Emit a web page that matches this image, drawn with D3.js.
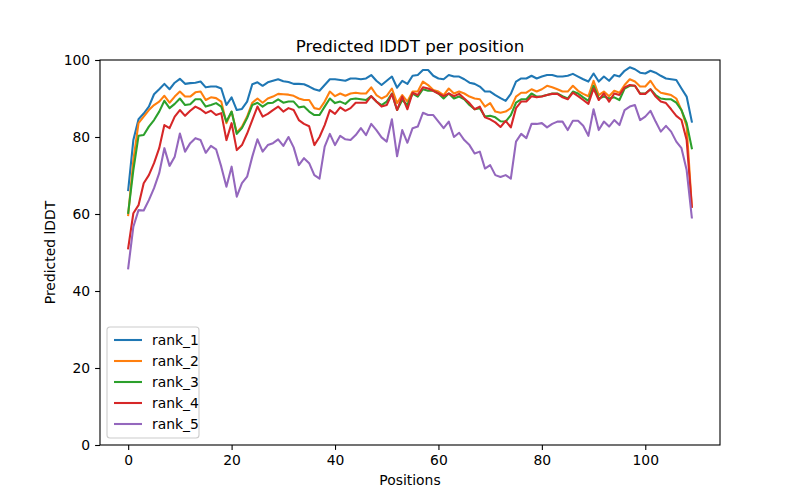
<!DOCTYPE html>
<html>
  <head>
    <title>Predicted lDDT per position</title>
    <meta charset="utf-8">
    <style>
      body { margin: 0; background-color: #fff; }
      svg { display: block; font-family: "DejaVu Sans", sans-serif; }
      .axis path, .axis line { stroke: #000; stroke-width: 1.1px; }
      .axis text { font-size: 13.9px; fill: #000; font-family: "DejaVu Sans", sans-serif; }
    </style>
    <script src="https://cdn.jsdelivr.net/npm/d3@7"></script>
  </head>
  <body>
    <div id="chart"></div>
    <script>
      var seriesNames = ['rank_1', 'rank_2', 'rank_3', 'rank_4', 'rank_5'];
      var xTicks = [0, 20, 40, 60, 80, 100];
      var yTicks = [0, 20, 40, 60, 80, 100];

      var rank1 = [66.2, 79.2, 84.6, 86.1, 87.9, 91.1, 92.4, 93.8, 92.4, 94.1, 95.1, 93.8, 94.0, 94.1, 94.4, 92.9, 93.1, 93.1, 92.6, 88.3,
        90.3, 87.0, 87.3, 89.2, 93.7, 94.2, 93.3, 94.2, 94.6, 95.0, 94.5, 94.3, 93.8, 93.8, 93.7, 93.1, 92.4, 92.0, 93.5, 95.0,
        95.0, 94.8, 94.6, 95.2, 95.2, 95.0, 95.2, 96.1, 94.6, 93.5, 94.6, 95.7, 92.8, 94.6, 93.8, 95.9, 96.1, 97.4, 97.4, 95.9,
        95.2, 95.0, 96.1, 95.7, 95.7, 95.0, 94.1, 93.8, 93.1, 91.8, 91.8, 90.9, 90.1, 89.4, 91.2, 94.4, 95.2, 95.2, 95.9, 95.2,
        95.7, 96.1, 96.1, 95.7, 95.7, 95.9, 96.4, 95.7, 95.0, 94.4, 96.5, 94.4, 95.7, 94.6, 96.1, 95.7, 97.2, 98.1, 97.6, 96.7,
        96.5, 97.2, 96.7, 95.9, 95.2, 95.0, 94.8, 92.6, 90.5, 84.0];
      var rank2 = [59.7, 74.0, 83.6, 85.3, 87.0, 88.3, 89.2, 90.7, 88.9, 90.5, 91.8, 90.5, 90.5, 91.6, 91.8, 89.6, 90.3, 90.1, 89.2, 83.6,
        86.6, 81.1, 82.7, 85.3, 88.9, 90.0, 88.9, 90.0, 90.5, 91.2, 91.1, 91.0, 90.7, 90.0, 89.6, 89.6, 87.5, 87.2, 89.2, 91.8,
        90.6, 91.3, 90.7, 91.3, 91.5, 91.3, 91.3, 92.9, 90.9, 90.0, 90.7, 92.6, 88.8, 90.9, 89.2, 91.8, 91.8, 94.4, 93.5, 92.2,
        91.8, 90.9, 92.6, 91.3, 91.8, 91.3, 90.5, 90.0, 89.8, 87.9, 88.8, 86.6, 86.3, 86.6, 87.5, 90.5, 91.5, 91.5, 92.4, 91.8,
        92.4, 93.3, 92.9, 92.4, 91.8, 91.8, 93.3, 92.0, 91.2, 90.6, 94.6, 90.9, 91.8, 90.6, 92.0, 91.5, 93.5, 95.0, 94.4, 93.1,
        93.1, 94.6, 92.6, 91.5, 91.2, 90.9, 90.0, 87.0, 82.7, 61.9];
      var rank3 = [60.3, 71.4, 80.3, 80.5, 82.7, 84.4, 86.6, 89.4, 87.5, 88.6, 90.0, 88.3, 88.5, 89.8, 89.8, 87.9, 88.3, 88.8, 87.9, 84.0,
        86.6, 80.8, 82.3, 84.9, 88.3, 88.9, 87.9, 88.8, 88.9, 89.8, 88.9, 89.2, 89.2, 87.7, 87.9, 86.6, 85.7, 85.7, 87.9, 90.0,
        88.8, 89.2, 88.6, 89.8, 90.0, 89.8, 89.6, 90.6, 89.2, 88.3, 89.2, 91.3, 87.0, 89.6, 88.3, 91.3, 90.5, 92.4, 92.0, 92.0,
        91.3, 90.0, 91.3, 90.0, 90.5, 89.8, 88.3, 87.2, 87.5, 85.3, 85.5, 85.1, 84.1, 84.0, 85.7, 88.9, 89.8, 89.8, 91.3, 90.5,
        90.6, 90.9, 91.3, 91.3, 90.6, 90.0, 91.8, 91.3, 90.3, 89.4, 93.3, 90.0, 90.5, 90.0, 90.3, 89.6, 92.6, 93.3, 93.3, 91.3,
        91.3, 92.4, 90.9, 90.0, 89.8, 89.8, 88.9, 87.0, 83.6, 77.1];
      var rank4 = [51.1, 60.2, 62.3, 68.0, 70.1, 73.2, 77.1, 83.1, 82.3, 85.3, 87.0, 85.5, 86.8, 87.9, 87.2, 86.2, 86.8, 85.7, 86.2, 79.2,
        83.6, 76.6, 77.9, 80.9, 84.4, 87.9, 85.3, 86.0, 87.0, 87.9, 86.6, 87.5, 87.0, 84.4, 83.4, 82.8, 77.9, 80.0, 83.1, 87.0,
        86.0, 87.7, 86.8, 87.5, 88.9, 88.9, 88.9, 90.6, 89.2, 87.9, 88.3, 91.2, 87.0, 90.5, 87.2, 91.5, 90.9, 92.9, 92.6, 92.0,
        91.3, 90.6, 91.3, 90.6, 91.2, 90.0, 88.8, 87.2, 87.9, 85.1, 84.6, 83.8, 82.6, 84.2, 82.5, 87.5, 89.2, 89.2, 90.6, 90.3,
        90.5, 90.9, 91.2, 91.2, 90.3, 89.8, 91.5, 90.6, 89.6, 88.6, 92.6, 89.6, 91.3, 89.2, 91.3, 90.9, 92.9, 93.5, 93.3, 91.2,
        91.2, 92.4, 90.5, 89.2, 88.8, 87.2, 85.5, 84.4, 79.2, 61.9];
      var rank5 = [45.9, 56.7, 61.0, 60.9, 63.6, 66.7, 70.6, 77.1, 72.5, 74.9, 80.9, 76.2, 78.4, 79.7, 79.2, 75.9, 77.7, 76.8, 72.3, 67.1,
        72.3, 64.5, 68.0, 69.7, 74.9, 79.4, 76.2, 77.9, 78.4, 79.4, 77.7, 80.0, 77.3, 72.7, 74.5, 73.2, 70.1, 69.2, 77.5, 80.8,
        77.9, 80.3, 79.4, 79.2, 80.5, 82.3, 80.5, 83.4, 81.8, 79.9, 78.8, 84.6, 75.0, 81.8, 78.5, 82.3, 82.7, 86.3, 85.7, 85.7,
        84.0, 82.3, 84.0, 80.0, 81.1, 79.2, 77.9, 75.7, 76.2, 71.8, 72.7, 70.1, 69.6, 70.1, 69.2, 78.8, 80.8, 79.7, 83.4, 83.4,
        83.6, 82.5, 83.4, 84.0, 84.0, 81.8, 84.2, 84.2, 82.9, 80.3, 87.2, 81.8, 84.0, 82.7, 84.4, 83.1, 87.0, 87.9, 88.3, 84.4,
        85.3, 86.8, 84.0, 81.4, 82.9, 81.4, 78.8, 77.1, 71.4, 59.1];

      var allSeries = [rank1, rank2, rank3, rank4, rank5];
      var colors = ['#1f77b4', '#ff7f0e', '#2ca02c', '#d62728', '#9467bd'];

      var W = 800, H = 500;
      var axLeft = 100, axRight = 720, axTop = 60, axBottom = 445;
      var n = rank1.length - 1;

      var x = d3.scaleLinear().domain([-0.05 * n, 1.05 * n]).range([axLeft, axRight]);
      var y = d3.scaleLinear().domain([0, 100]).range([axBottom, axTop]);

      var svg = d3.select('#chart').append('svg').attr('width', W).attr('height', H);

      var line = d3.line().x(function(d, i) { return x(i); }).y(function(d) { return y(d); });

      svg.append('g').selectAll('path').data(allSeries).enter().append('path')
        .attr('d', line)
        .attr('fill', 'none')
        .attr('stroke', function(d, i) { return colors[i]; })
        .attr('stroke-width', 2.08)
        .attr('stroke-linejoin', 'round')
        .attr('stroke-linecap', 'square');

      // axes
      var xAxis = d3.axisBottom(x).tickValues(xTicks).tickSize(4.9).tickPadding(4.9).tickSizeOuter(0);
      var yAxis = d3.axisLeft(y).tickValues(yTicks).tickSize(4.9).tickPadding(4.9).tickSizeOuter(0);
      svg.append('g').attr('class', 'axis').attr('transform', 'translate(0,' + axBottom + ')').call(xAxis)
        .select('.domain').remove();
      svg.append('g').attr('class', 'axis').attr('transform', 'translate(' + axLeft + ',0)').call(yAxis)
        .select('.domain').remove();

      svg.append('rect').attr('x', axLeft).attr('y', axTop).attr('width', axRight - axLeft).attr('height', axBottom - axTop)
        .attr('fill', 'none').attr('stroke', '#000').attr('stroke-width', 1.1);

      svg.append('text').attr('x', (axLeft + axRight) / 2).attr('y', 52).attr('text-anchor', 'middle')
        .style('font-size', '16.7px').text('Predicted lDDT per position');
      svg.append('text').attr('x', (axLeft + axRight) / 2).attr('y', 485).attr('text-anchor', 'middle')
        .style('font-size', '13.9px').text('Positions');
      svg.append('text').attr('transform', 'translate(55,' + (axTop + axBottom) / 2 + ') rotate(-90)')
        .attr('text-anchor', 'middle').style('font-size', '13.9px').text('Predicted lDDT');

      // legend
      var lg = svg.append('g').attr('transform', 'translate(107,327)');
      lg.append('rect').attr('width', 92).attr('height', 111).attr('rx', 3)
        .attr('fill', '#fff').attr('fill-opacity', 0.8).attr('stroke', '#ccc').attr('stroke-width', 1.1);
      var item = lg.selectAll('g.item').data(seriesNames).enter().append('g')
        .attr('transform', function(d, i) { return 'translate(0,' + (13 + i * 21) + ')'; });
      item.append('line').attr('x1', 7).attr('x2', 35).attr('y1', 0).attr('y2', 0)
        .attr('stroke', function(d, i) { return colors[i]; }).attr('stroke-width', 2.08);
      item.append('text').attr('x', 45).attr('y', 5).style('font-size', '13.9px').text(function(d) { return d; });
    </script>
  </body>
</html>
